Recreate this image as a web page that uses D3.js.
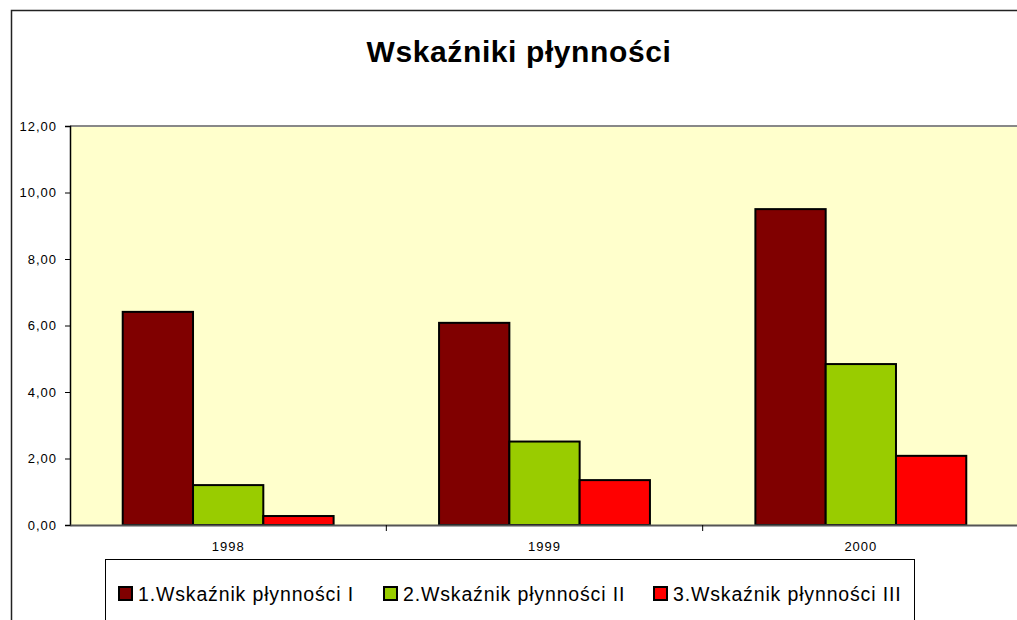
<!DOCTYPE html>
<html><head><meta charset="utf-8">
<script src="https://cdn.jsdelivr.net/npm/d3@7/dist/d3.min.js"></script>
<style>body{margin:0;background:#fff;}svg{display:block;font-family:"Liberation Sans",Arial,sans-serif;}</style>
</head><body>
<svg id="c" width="1017" height="620"></svg>
<script>
const categories = ["1998", "1999", "2000"];
const seriesNames = ["1.Wskaźnik płynności I", "2.Wskaźnik płynności II", "3.Wskaźnik płynności III"];
const seriesI = [6.41, 6.08, 9.50];
const seriesII = [1.20, 2.51, 4.84];
const seriesIII = [0.27, 1.35, 2.08];
const colors = ["#800000", "#99CC00", "#FF0000"];
const yTicks = [0, 2, 4, 6, 8, 10, 12];
const title = "Wskaźniki płynności";

(function () {
const series = [seriesI, seriesII, seriesIII];
const svg = d3.select("#c");

// outer chart border
svg.append("path").attr("d", "M11.5,700 L11.5,10.5 L1100,10.5")
  .attr("fill", "none").attr("stroke", "#222").attr("stroke-width", 1.5);

svg.append("text").attr("x", 519).attr("y", 62).attr("text-anchor", "middle")
  .attr("font-size", 30).attr("letter-spacing", 0.6).attr("font-weight", "bold").text(title);

const pL = 70, pR = 1019, pT = 126, pB = 525;
const x = d3.scaleBand().domain(categories).range([pL, pR]).paddingInner(0).paddingOuter(0);
const x1 = d3.scaleBand().domain(d3.range(series.length)).range([0, x.bandwidth()]).paddingOuter(0.75).paddingInner(0);
const y = d3.scaleLinear().domain([0, 12]).range([pB, pT]);

// plot background
svg.append("rect").attr("x", pL).attr("y", pT).attr("width", pR - pL).attr("height", pB - pT)
  .attr("fill", "#FFFFCC");
svg.append("line").attr("x1", pL).attr("x2", pR).attr("y1", pT).attr("y2", pT)
  .attr("stroke", "#888").attr("stroke-width", 2);

// bars
const rows = [];
categories.forEach((c, i) => series.forEach((s, j) => rows.push({c, j, v: s[i]})));
svg.append("g").selectAll("rect").data(rows).join("rect")
  .attr("x", d => x(d.c) + x1(d.j))
  .attr("y", d => y(d.v))
  .attr("width", x1.bandwidth())
  .attr("height", d => y(0) - y(d.v))
  .attr("fill", d => colors[d.j])
  .attr("stroke", "#000").attr("stroke-width", 2);

// y axis
const yAxis = svg.append("g").attr("transform", `translate(${pL},0)`)
  .call(d3.axisLeft(y).tickValues(yTicks).tickSize(5).tickPadding(8)
    .tickFormat(d => d3.format(".2f")(d).replace(".", ",")));
yAxis.select(".domain").attr("stroke", "#000").attr("stroke-width", 1.5);
yAxis.selectAll("text").attr("font-size", 13).attr("letter-spacing", 1).attr("fill", "#000")
  .attr("font-family", "Liberation Sans, Arial, sans-serif");
yAxis.selectAll("line").attr("stroke", "#000");

// x axis
const xAxis = svg.append("g").attr("transform", `translate(0,${pB})`)
  .call(d3.axisBottom(x).tickSize(0).tickPadding(17));
xAxis.select(".domain").attr("stroke", "#555").attr("stroke-width", 2);
xAxis.selectAll("text").attr("font-size", 13).attr("letter-spacing", 1).attr("fill", "#000")
  .attr("font-family", "Liberation Sans, Arial, sans-serif");
xAxis.selectAll(".sep").data(categories.slice(1)).join("line").attr("class", "sep")
  .attr("x1", d => x(d)).attr("x2", d => x(d)).attr("y1", 0).attr("y2", 6).attr("stroke", "#000");

// legend
const lg = svg.append("g");
lg.append("rect").attr("x", 105.5).attr("y", 559.5).attr("width", 809).attr("height", 100)
  .attr("fill", "#fff").attr("stroke", "#000").attr("stroke-width", 1);
const legX = [119, 384, 654];
seriesNames.forEach((n, j) => {
  lg.append("rect").attr("x", legX[j]).attr("y", 587).attr("width", 13).attr("height", 13)
    .attr("fill", colors[j]).attr("stroke", "#000").attr("stroke-width", 2);
  lg.append("text").attr("x", legX[j] + 19).attr("y", 601).attr("font-size", 19.5)
    .attr("letter-spacing", 0.85).text(n);
});
})();
</script>
</body></html>
